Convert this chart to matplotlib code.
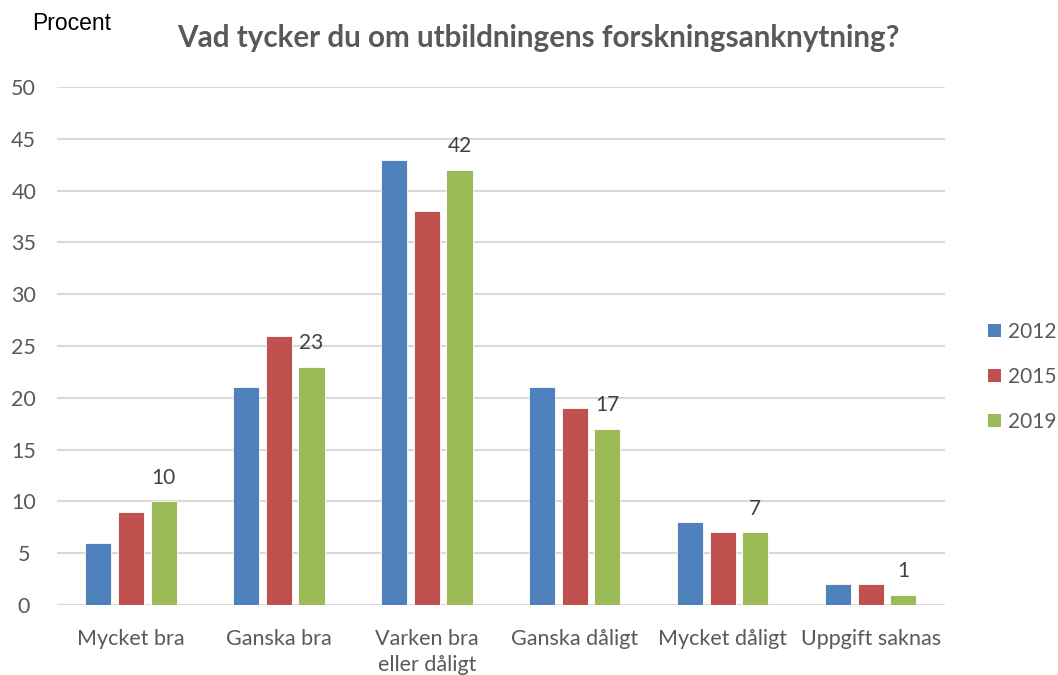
import numpy as np
import matplotlib
matplotlib.use("Agg")
from matplotlib import pyplot as plt
from matplotlib.patches import Patch

categories = ["Mycket bra", "Ganska bra", "Varken bra\neller dåligt",
              "Ganska dåligt", "Mycket dåligt", "Uppgift saknas"]
years = ["2012", "2015", "2019"]
v2012 = [6, 21, 43, 21, 8, 2]
v2015 = [9, 26, 38, 19, 7, 2]
v2019 = [10, 23, 42, 17, 7, 1]
colors = ["#4f81bd", "#c0504d", "#9bbb59"]

plt.rcParams['font.family'] = ['Lato', 'DejaVu Sans']

fig = plt.figure(figsize=(10.58, 6.75), dpi=100)
ax = fig.add_axes([0.0539, 0.1037, 0.8391, 0.7674])

x = np.arange(len(categories))
w = 0.176
step = 0.22
series = [v2012, v2015, v2019]
for i, vals in enumerate(series):
    bars = ax.bar(x + (i - 1) * step, vals, w, color=colors[i],
                  edgecolor="white", linewidth=0.6, zorder=3, label=years[i])
    if i == 2:
        # only the 2019 bars carry value labels
        for b, v in zip(bars, vals):
            ax.text(b.get_x() + b.get_width() / 2, v + 1.3, str(v),
                    ha="center", va="bottom", fontsize=15, color="#404040")

ax.set_xlim(-0.5, len(categories) - 0.5)
ax.set_ylim(0, 50)
ax.set_yticks(range(0, 51, 5))
ax.yaxis.grid(True, color="#d9d9d9", linewidth=1.5, zorder=0)
ax.set_axisbelow(True)
for s in ax.spines.values():
    s.set_visible(False)
ax.tick_params(axis="both", length=0, labelsize=15.5, labelcolor="#595959")
ax.tick_params(axis="x", pad=17)
ax.tick_params(axis="y", pad=24)
ax.set_xticks(x)
ax.set_xticklabels(categories, linespacing=1.4)
for lbl in ax.get_yticklabels():
    lbl.set_horizontalalignment("center")

fig.text(0.030, 0.965, "Procent", fontsize=16.5, family="Liberation Sans",
         color="black", va="center", ha="left")
fig.text(0.509, 0.944, "Vad tycker du om utbildningens forskningsanknytning?",
         fontsize=21.3, fontweight="bold", color="#595959",
         ha="center", va="center")

handles = [Patch(facecolor=c, edgecolor="none") for c in colors]
leg = fig.legend(handles, years, loc="center left",
                 bbox_to_anchor=(0.916, 0.442), frameon=False,
                 fontsize=15, labelspacing=1.2, handlelength=0.62,
                 handleheight=0.62, handletextpad=0.33)
for t in leg.get_texts():
    t.set_color("#595959")

fig.savefig("out.png", dpi=100)
